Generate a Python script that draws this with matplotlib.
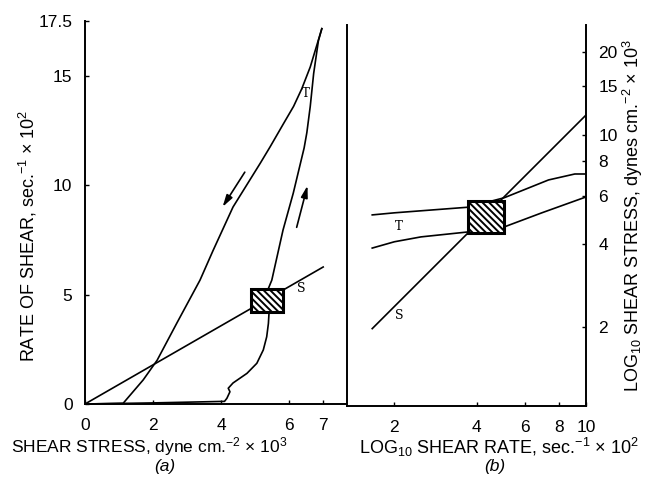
import matplotlib
matplotlib.use("Agg")
import matplotlib.pyplot as plt
from matplotlib.patches import Rectangle
from matplotlib.ticker import FixedLocator, NullLocator

plt.rcParams['font.family'] = ['Liberation Sans', 'DejaVu Sans']
plt.rcParams['mathtext.fontset'] = 'custom'
plt.rcParams['mathtext.rm'] = 'Liberation Sans'
plt.rcParams['mathtext.it'] = 'Liberation Sans:italic'
plt.rcParams['hatch.linewidth'] = 1.4

# ---------------- Data: panel (a) ----------------
t_up_x = [0.0, 2.0, 4.1, 4.17, 4.26, 4.21, 4.35, 4.76, 5.05, 5.24, 5.34, 5.39, 5.41, 5.39, 5.49,
          5.82, 6.12, 6.44, 6.52, 6.62, 6.72, 6.86, 6.96]
t_up_y = [0.0, 0.05, 0.12, 0.26, 0.56, 0.72, 0.96, 1.4, 1.86, 2.47, 3.07, 3.68, 4.21, 5.28, 5.66,
          7.95, 9.63, 11.7, 12.4, 13.6, 15.1, 16.6, 17.15]
t_down_x = [6.96, 6.62, 6.37, 6.13, 5.83, 5.44, 5.15, 4.35, 3.76, 3.38, 2.7, 2.12, 1.71, 1.12, 0.0]
t_down_y = [17.15, 15.4, 14.4, 13.6, 12.8, 11.75, 11.0, 9.0, 7.0, 5.66, 3.7, 2.0, 1.1, 0.03, 0.0]
s_a_x = [0.0, 7.0]
s_a_y = [0.0, 6.26]
box_a_x = [4.88, 5.82]
box_a_y = [4.2, 5.25]
a_xticks = [0, 2, 4, 6, 7]
a_yticks = [0, 5, 10, 15, 17.5]
a_yticklabels = ['0', '5', '10', '15', '17.5']

# ---------------- Data: panel (b) ----------------
t_hi_x = [1.66, 2.0, 3.71, 5.03, 7.3, 9.1, 10.0]
t_hi_y = [5.11, 5.2, 5.45, 5.9, 6.85, 7.2, 7.2]
t_lo_x = [1.66, 2.0, 2.5, 3.71, 5.03, 6.9, 10.0]
t_lo_y = [3.87, 4.08, 4.25, 4.43, 4.62, 5.2, 5.94]
s_b_x = [1.66, 10.0]
s_b_y = [1.97, 11.8]
box_b_x = [3.71, 5.03]
box_b_y = [4.39, 5.74]
b_xticks = [2, 4, 6, 8, 10]
b_yticks = [2, 4, 6, 8, 10, 15, 20]

W, H = 649, 480
fig = plt.figure(figsize=(W / 100, H / 100), dpi=100)

def fx(px):
    return px / W

def fy(py):
    return 1 - py / H

LW = 1.2
TICKFS = 11.5
LABFS = 12.5
TICKFAM = ['Liberation Sans Narrow', 'Liberation Sans', 'DejaVu Sans']
HATCH = '\\\\\\\\\\'

# ---------------- Panel (a) ----------------
axa = fig.add_axes([fx(85), fy(404), fx(347) - fx(85), fy(21) - fy(404)])
axa.set_xlim(0, 7.7)
axa.set_ylim(0, 17.5)
axa.plot(t_up_x, t_up_y, color='black', lw=LW, clip_on=False)
axa.plot(t_down_x, t_down_y, color='black', lw=LW, clip_on=False)
axa.plot(s_a_x, s_a_y, color='black', lw=LW)
axa.add_patch(Rectangle((box_a_x[0], box_a_y[0]), box_a_x[1] - box_a_x[0], box_a_y[1] - box_a_y[0],
                        facecolor='white', edgecolor='black', lw=2.2, hatch=HATCH, zorder=5))
axa.text(6.5, 14.2, 'T', fontsize=8.5, ha='center', va='center', family='DejaVu Serif')
axa.text(6.35, 5.3, 'S', fontsize=9, ha='center', va='center', family='DejaVu Serif')
axa.annotate('', xy=(4.0, 8.9), xytext=(4.74, 10.7),
             arrowprops=dict(arrowstyle='-|>,head_length=0.7,head_width=0.2', color='black', lw=1.2))
axa.annotate('', xy=(6.56, 10.1), xytext=(6.2, 7.95),
             arrowprops=dict(arrowstyle='-|>,head_length=0.7,head_width=0.2', color='black', lw=1.2))
axa.spines['top'].set_visible(False)
axa.spines['right'].set_visible(False)
for sp in ['left', 'bottom']:
    axa.spines[sp].set_linewidth(1.4)
axa.set_xticks(a_xticks)
axa.set_xticklabels([str(v) for v in a_xticks], family=TICKFAM)
axa.set_yticks(a_yticks)
axa.set_yticklabels(a_yticklabels, family=TICKFAM)
axa.tick_params(axis='x', direction='in', length=3, width=1, labelsize=TICKFS + 1, pad=10)
axa.tick_params(axis='y', direction='in', length=3, width=1, labelsize=TICKFS + 1, pad=9)

# ---------------- Panel (b) ----------------
axb = fig.add_axes([fx(347), fy(406), fx(586) - fx(347), fy(25) - fy(406)])
axb.set_xscale('log')
axb.set_yscale('log')
axb.set_xlim(1.343, 10)
axb.set_ylim(1.03, 25.1)
axb.plot(t_hi_x, t_hi_y, color='black', lw=LW)
axb.plot(t_lo_x, t_lo_y, color='black', lw=LW)
axb.plot(s_b_x, s_b_y, color='black', lw=LW)
axb.add_patch(Rectangle((box_b_x[0], box_b_y[0]), box_b_x[1] - box_b_x[0], box_b_y[1] - box_b_y[0],
                        facecolor='white', edgecolor='black', lw=2.2, hatch=HATCH, zorder=5))
axb.text(2.07, 4.62, 'T', fontsize=8.5, ha='center', va='center', family='DejaVu Serif')
axb.text(2.09, 2.2, 'S', fontsize=9, ha='center', va='center', family='DejaVu Serif')
axb.spines['top'].set_visible(False)
for sp in ['left', 'bottom', 'right']:
    axb.spines[sp].set_linewidth(1.4)
axb.xaxis.set_major_locator(FixedLocator(b_xticks))
axb.xaxis.set_minor_locator(NullLocator())
axb.set_xticklabels([str(v) for v in b_xticks], family=TICKFAM)
axb.yaxis.set_major_locator(FixedLocator(b_yticks))
axb.yaxis.set_minor_locator(NullLocator())
axb.yaxis.tick_right()
axb.set_yticklabels([str(v) for v in b_yticks], family=TICKFAM)
axb.tick_params(axis='x', direction='in', length=3, width=1, labelsize=TICKFS + 1, pad=10)
axb.tick_params(axis='y', direction='in', length=3, width=1, labelsize=TICKFS + 1, pad=9)

# ---------------- Axis labels ----------------
fig.text(fx(28), fy(236), 'RATE OF SHEAR, sec.$^{-1}$ × 10$^{2}$', rotation=90,
         ha='center', va='center', fontsize=LABFS + 0.5)
fig.text(fx(149), fy(447), 'SHEAR STRESS, dyne cm.$^{-2}$ × 10$^{3}$',
         ha='center', va='center', fontsize=LABFS)
fig.text(fx(165), fy(467), '(a)', ha='center', va='center', fontsize=LABFS, style='italic')
fig.text(fx(499), fy(447), 'LOG$_{10}$ SHEAR RATE, sec.$^{-1}$ × 10$^{2}$',
         ha='center', va='center', fontsize=LABFS + 0.5)
fig.text(fx(495), fy(467), '(b)', ha='center', va='center', fontsize=LABFS, style='italic')
fig.text(fx(633), fy(215), 'LOG$_{10}$ SHEAR STRESS, dynes cm.$^{-2}$ × 10$^{3}$', rotation=90,
         ha='center', va='center', fontsize=LABFS + 0.5)

fig.savefig('out.png', dpi=100)
